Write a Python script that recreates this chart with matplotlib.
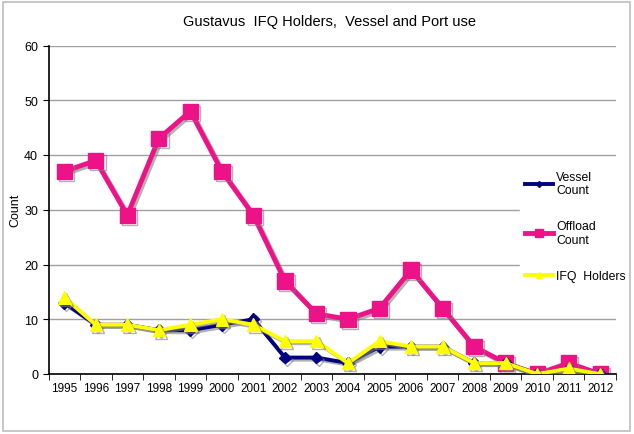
import matplotlib

matplotlib.use("Agg")
import matplotlib.pyplot as plt
import matplotlib.patheffects as pe
from matplotlib.patches import Rectangle

YEARS = [str(y) for y in range(1995, 2013)]
VESSEL = [13, 9, 9, 8, 8, 9, 10, 3, 3, 2, 5, 5, 5, 2, 2, 0, 1, 0]
OFFLOAD = [37, 39, 29, 43, 48, 37, 29, 17, 11, 10, 12, 19, 12, 5, 2, 0, 2, 0]
IFQ = [14, 9, 9, 8, 9, 10, 9, 6, 6, 2, 6, 5, 5, 2, 2, 0, 1, 0]

NAVY, PINK, YELLOW = "#000080", "#EE1289", "#FFFF00"

plt.rcParams["font.family"] = ["Liberation Sans", "DejaVu Sans"]

fig = plt.figure(figsize=(6.34, 4.35), dpi=100)
fig.patch.set_facecolor("white")
fig.add_artist(Rectangle((0.005, 0.007), 0.988, 0.986, transform=fig.transFigure,
                         fill=False, edgecolor="#bdbdbd", lw=1.2))

ax = fig.add_axes([48.5 / 634, 1 - 375 / 435, (616 - 48.5) / 634, (375 - 46.5) / 435])
x = list(range(len(YEARS)))
shadow = [pe.SimpleLineShadow(offset=(1.5, -1.5), shadow_color="#808080", alpha=0.6), pe.Normal()]

ax.plot(x, VESSEL, color=NAVY, lw=2.8, marker="D", ms=6, label="Vessel\nCount",
        path_effects=shadow, zorder=3)
ax.plot(x, OFFLOAD, color=PINK, lw=3.5, marker="s", ms=11, label="Offload\nCount",
        path_effects=shadow, zorder=2)
ax.plot(x, IFQ, color=YELLOW, lw=2.8, marker="^", ms=9, label="IFQ  Holders",
        path_effects=shadow, zorder=4)

ax.set_xlim(-0.5, len(YEARS) - 0.5)
ax.set_ylim(0, 60)
ax.set_yticks(range(0, 61, 10))
ax.set_xticks(x)
ax.set_xticklabels(YEARS, fontsize=8.5)
ax.set_xticks([i - 0.5 for i in range(len(YEARS) + 1)], minor=True)
ax.tick_params(axis="x", which="major", length=0, pad=6)
ax.tick_params(axis="x", which="minor", length=4, direction="out")
ax.tick_params(axis="y", labelsize=9, length=4, direction="out")
ax.grid(axis="y", color="#a0a0a0", lw=1)
ax.set_axisbelow(True)
for s in ("top", "right"):
    ax.spines[s].set_visible(False)
ax.spines["left"].set_linewidth(1.2)
ax.spines["bottom"].set_linewidth(1.2)
ax.set_ylabel("Count", fontsize=9, labelpad=2)

fig.text(0.52, 1 - 22 / 435, "Gustavus  IFQ Holders,  Vessel and Port use",
         ha="center", va="center", fontsize=10.5)

leg = ax.legend(loc="center left", bbox_to_anchor=(465 / 567.5, 0.45), frameon=True,
                fontsize=8.8, handlelength=2.3, markerscale=0.5, labelspacing=1.95,
                handletextpad=0.3, borderpad=0.4)
leg.get_frame().set_edgecolor("white")
leg.get_frame().set_facecolor("white")
leg.get_frame().set_alpha(1)
for h in leg.get_lines():
    h.set_path_effects([])

fig.savefig("out.png", dpi=100, facecolor="white")
